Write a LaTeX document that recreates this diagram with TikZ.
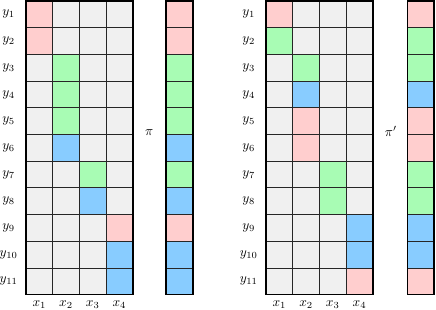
\documentclass[tikz,border=0pt]{standalone}
\usepackage{amsmath,amssymb}
\usepackage{tikz}
\usetikzlibrary{positioning}

\definecolor{cpink}{RGB}{255,206,206}
\definecolor{cgreen}{RGB}{168,252,180}
\definecolor{cblue}{RGB}{136,204,255}
\definecolor{cgray}{RGB}{240,240,240}

\begin{document}
\begin{tikzpicture}[
    x=0.7cm, y=0.7cm,
    every node/.style={font=\normalsize},
    cellgrid/.style={draw=black!85, line width=0.45pt},
    frame/.style={draw=black, line width=1.3pt},
    ylab/.style={anchor=center},
    xlab/.style={anchor=center}
]
    \useasboundingbox (-0.975,0.04) rectangle (15.37,-11.55);

    % Left matrix
    \fill[cgray] (0,0) rectangle (4,-11);
    \foreach \r/\c/\col in {1/1/cpink, 2/1/cpink, 3/2/cgreen, 4/2/cgreen, 5/2/cgreen, 6/2/cblue,
                            7/3/cgreen, 8/3/cblue, 9/4/cpink, 10/4/cblue, 11/4/cblue}
        \fill[\col] (\c-1,1-\r) rectangle (\c,-\r);
    \foreach \c in {1,2,3}
        \draw[cellgrid] (\c,0) -- (\c,-11);
    \foreach \r in {1,...,10}
        \draw[cellgrid] (0,-\r) -- (4,-\r);
    \draw[frame] (0,0) rectangle (4,-11);

    % Left assignment pi
    \foreach \r/\col in {1/cpink, 2/cpink, 3/cgreen, 4/cgreen, 5/cgreen, 6/cblue,
                         7/cgreen, 8/cblue, 9/cpink, 10/cblue, 11/cblue}
        \fill[\col] (5.25,1-\r) rectangle (6.25,-\r);
    \foreach \r in {1,...,10}
        \draw[cellgrid] (5.25,-\r) -- (6.25,-\r);
    \draw[frame] (5.25,0) rectangle (6.25,-11);

    % Right matrix
    \fill[cgray] (9,0) rectangle (13,-11);
    \foreach \r/\c/\col in {1/1/cpink, 2/1/cgreen, 3/2/cgreen, 4/2/cblue, 5/2/cpink, 6/2/cpink,
                            7/3/cgreen, 8/3/cgreen, 9/4/cblue, 10/4/cblue, 11/4/cpink}
        \fill[\col] (8+\c,1-\r) rectangle (9+\c,-\r);
    \foreach \c in {10,11,12}
        \draw[cellgrid] (\c,0) -- (\c,-11);
    \foreach \r in {1,...,10}
        \draw[cellgrid] (9,-\r) -- (13,-\r);
    \draw[frame] (9,0) rectangle (13,-11);

    % Right assignment pi'
    \foreach \r/\col in {1/cpink, 2/cgreen, 3/cgreen, 4/cblue, 5/cpink, 6/cpink,
                         7/cgreen, 8/cgreen, 9/cblue, 10/cblue, 11/cpink}
        \fill[\col] (14.3,1-\r) rectangle (15.3,-\r);
    \foreach \r in {1,...,10}
        \draw[cellgrid] (14.3,-\r) -- (15.3,-\r);
    \draw[frame] (14.3,0) rectangle (15.3,-11);

    % Labels
    \foreach \i in {1,...,11} {
        \node[ylab] (yl\i) at (-0.65,0.5-\i) {$y_{\i}$};
        \node[ylab] (yr\i) at (8.35,0.5-\i) {$y_{\i}$};
    }
    \foreach \j in {1,...,4} {
        \node[xlab] (xl\j) at (\j-0.5,-11.38) {$x_{\j}$};
        \node[xlab] (xr\j) at (8.5+\j,-11.38) {$x_{\j}$};
    }
    \node (pi) at (4.62,-4.93) {$\pi$};
    \node (piprime) at (13.68,-4.9) {$\pi'$};
\end{tikzpicture}
\end{document}
